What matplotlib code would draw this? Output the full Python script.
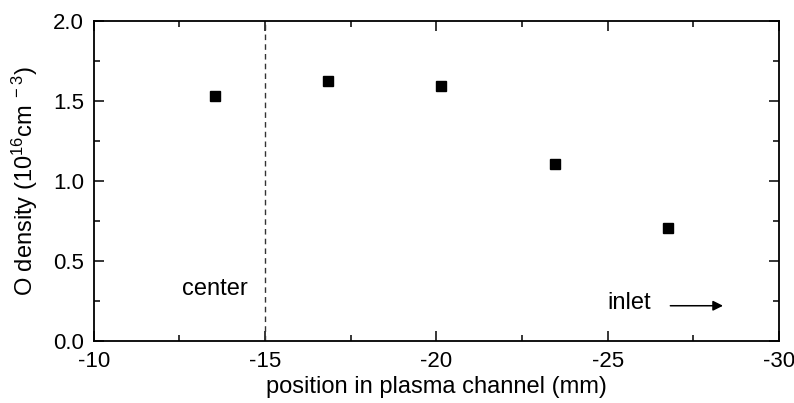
import matplotlib
matplotlib.use("Agg")
from matplotlib import pyplot as plt
from matplotlib.ticker import MultipleLocator

plt.rcParams['font.family'] = ['Liberation Sans', 'DejaVu Sans']
plt.rcParams['mathtext.fontset'] = 'custom'
plt.rcParams['mathtext.rm'] = 'Liberation Sans'
plt.rcParams['mathtext.it'] = 'Liberation Sans'

# data
position = [-13.55, -16.85, -20.15, -23.45, -26.75]
density = [1.53, 1.625, 1.595, 1.105, 0.705]
center_pos = -15

fig = plt.figure(figsize=(7.94, 4.03), dpi=100)
ax = fig.add_axes([0.118, 0.154, 0.863, 0.794])

ax.plot(position, density, 's', color='black', markersize=7.5, linestyle='none')
ax.axvline(center_pos, color='#333333', linestyle=(0, (4, 3)), linewidth=1)

ax.set_xlim(-10, -30)
ax.set_ylim(0, 2.0)
ax.xaxis.set_major_locator(MultipleLocator(5))
ax.xaxis.set_minor_locator(MultipleLocator(2.5))
ax.yaxis.set_major_locator(MultipleLocator(0.5))
ax.yaxis.set_minor_locator(MultipleLocator(0.25))
ax.xaxis.set_major_formatter(plt.FuncFormatter(lambda v, p: f"{v:.0f}"))
ax.yaxis.set_major_formatter(plt.FuncFormatter(lambda v, p: f"{v:.1f}"))

ax.tick_params(which='both', direction='in', top=True, right=True,
               labelsize=16, width=1.1)
ax.tick_params(which='major', length=7, pad=7)
ax.tick_params(which='minor', length=4)
for s in ax.spines.values():
    s.set_linewidth(1.3)

ax.set_xlabel("position in plasma channel (mm)", fontsize=17, labelpad=3)
ax.set_ylabel(r"O density (10$^{16}$cm$^{\ -3}$)", fontsize=17, labelpad=9)

ax.text(-13.55, 0.325, "center", fontsize=17, ha='center', va='center')
ax.text(-25.0, 0.24, "inlet", fontsize=17, ha='left', va='center')
ax.annotate("", xy=(-28.45, 0.22), xytext=(-26.75, 0.22),
            arrowprops=dict(arrowstyle='-|>', color='black', lw=1.1,
                            mutation_scale=15))

fig.savefig("out.png", dpi=100)
